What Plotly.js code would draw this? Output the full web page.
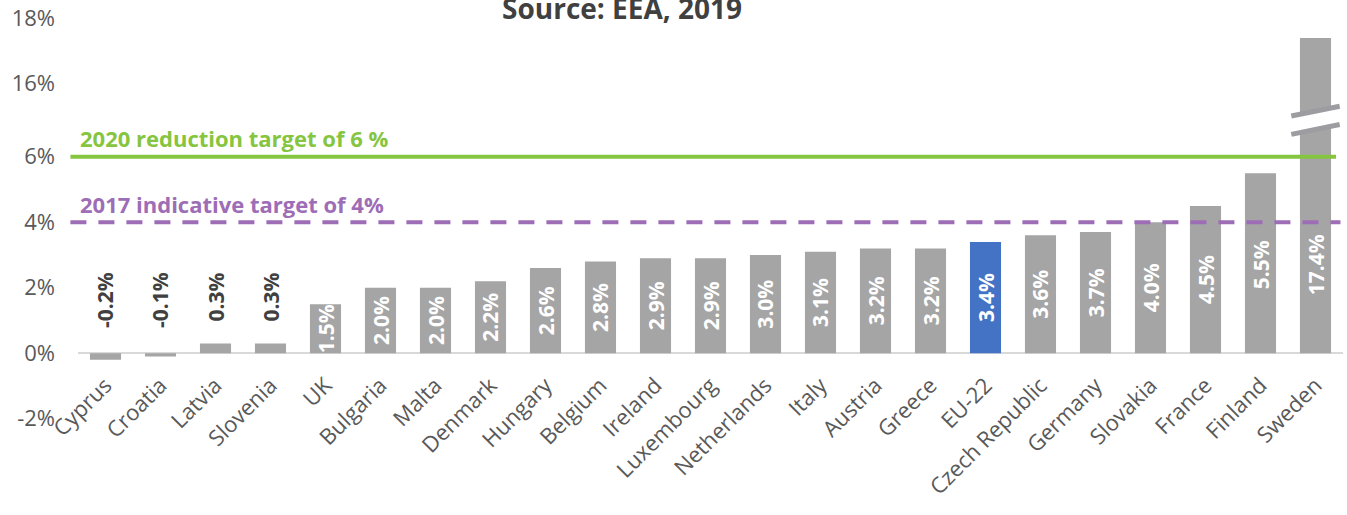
<!DOCTYPE html>
<html>
<head>
<meta charset="utf-8">
<script src="https://cdn.plot.ly/plotly-3.0.1.min.js"></script>
<style>
  html, body { margin: 0; padding: 0; background: #fff; }
  #chart { width: 1347px; height: 515px; }
</style>
</head>
<body>
<div id="chart"></div>
<script>
// ---- data ----
const countries = ["Cyprus", "Croatia", "Latvia", "Slovenia", "UK", "Bulgaria", "Malta", "Denmark",
  "Hungary", "Belgium", "Ireland", "Luxembourg", "Netherlands", "Italy", "Austria", "Greece",
  "EU-22", "Czech Republic", "Germany", "Slovakia", "France", "Finland", "Sweden"];
const reduction = [-0.2, -0.1, 0.3, 0.3, 1.5, 2.0, 2.0, 2.2, 2.6, 2.8, 2.9, 2.9, 3.0, 3.1, 3.2, 3.2,
  3.4, 3.6, 3.7, 4.0, 4.5, 5.5, 17.4];
const highlight = "EU-22";
const tickValues = [-2, 0, 2, 4, 6, 16, 18];
const tickLabels = ["-2%", "0%", "2%", "4%", "6%", "16%", "18%"];
const target2020 = 6;
const target2017 = 4;
const target2020Label = "2020 reduction target of 6 %";
const target2017Label = "2017 indicative target of 4%";
const sourceText = "Source: EEA, 2019";

// ---- broken axis: 6%..16% is compressed ----
const breakLo = 6, breakHi = 16, breakSpan = 2.23;
function disp(v) {
  if (v <= breakLo) return v;
  if (v >= breakHi) return v - breakHi + breakLo + breakSpan;
  return breakLo + (v - breakLo) / (breakHi - breakLo) * breakSpan;
}

const FONT = "Open Sans";
const GRAY = "#A5A5A5";
const BLUE = "#4472C4";
const GREEN = "#86C540";
const PURPLE = "#9D6DB6";

const yDisp = reduction.map(disp);
const colors = countries.map(c => c === highlight ? BLUE : GRAY);

const trace = {
  type: "bar",
  x: countries,
  y: yDisp,
  marker: { color: colors, line: { width: 0 } },
  hoverinfo: "skip"
};

// data labels
const annotations = [];
reduction.forEach((v, i) => {
  const txt = v.toFixed(1) + "%";
  if (Math.abs(v) < 1) {
    annotations.push({
      x: i, y: 2.53, xref: "x", yref: "y", text: "<b>" + txt + "</b>",
      textangle: -90, showarrow: false, xanchor: "center", yanchor: "top",
      font: { family: FONT, size: 21, color: "#404040" }
    });
  } else {
    annotations.push({
      x: i, y: Math.min(yDisp[i], 5.4) / 2, xref: "x", yref: "y", text: "<b>" + txt + "</b>",
      textangle: -90, showarrow: false, xanchor: "center", yanchor: "middle",
      font: { family: FONT, size: 21, color: "#FFFFFF" }
    });
  }
});

// target labels
annotations.push({
  x: 0, xref: "paper", xanchor: "left", y: disp(target2020) + 0.47, yref: "y", yanchor: "middle",
  yshift: 3,
  text: "<b>" + target2020Label + "</b>", showarrow: false,
  font: { family: FONT, size: 22, color: GREEN }
});
annotations.push({
  x: 0, xref: "paper", xanchor: "left", y: disp(target2017) + 0.45, yref: "y", yanchor: "middle",
  yshift: 4,
  text: "<b>" + target2017Label + "</b>", showarrow: false,
  font: { family: FONT, size: 22, color: PURPLE }
});
// source (title second line, partly cut at top as in the reference)
annotations.push({
  x: 0.43, xref: "paper", xanchor: "center", y: 1.0, yref: "paper", yanchor: "middle",
  yshift: 8,
  text: "<b>" + sourceText + "</b>", showarrow: false,
  font: { family: FONT, size: 28, color: "#404040" }
});

// break marks on the tall bar
const bi = countries.length - 1;
const mid = (disp(breakLo) + disp(breakHi)) / 2;
const half = 0.44, tilt = 0.15, off = 0.28;
const xl = bi - half, xr = bi + half;
const shapes = [
  { type: "line", xref: "paper", yref: "y", x0: -0.006, x1: 0.9945,
    y0: disp(target2020), y1: disp(target2020), line: { color: GREEN, width: 4 }, layer: "above" },
  { type: "line", xref: "paper", yref: "y", x0: -0.006, x1: 0.998,
    y0: disp(target2017), y1: disp(target2017), line: { color: PURPLE, width: 4, dash: "16px,12px" }, layer: "above" },
  { type: "path", xref: "x", yref: "y", layer: "above",
    path: `M ${xl} ${mid - off - tilt} L ${xr} ${mid - off + tilt} L ${xr} ${mid + off + tilt} L ${xl} ${mid + off - tilt} Z`,
    fillcolor: "#FFFFFF", line: { width: 0 } },
  { type: "line", xref: "x", yref: "y", layer: "above",
    x0: xl, x1: xr, y0: mid + off - tilt, y1: mid + off + tilt, line: { color: "#9C9CA1", width: 5 } },
  { type: "line", xref: "x", yref: "y", layer: "above",
    x0: xl, x1: xr, y0: mid - off - tilt, y1: mid - off + tilt, line: { color: "#9C9CA1", width: 5 } }
];

const yMin = -2.1, yMax = 10.3;
const layout = {
  width: 1347, height: 515,
  margin: { l: 78, r: 4, t: 16, b: 93 },
  paper_bgcolor: "#FFFFFF", plot_bgcolor: "#FFFFFF",
  showlegend: false,
  bargap: 0.435,
  font: { family: FONT, color: "#595959" },
  xaxis: {
    type: "category",
    anchor: "free",
    position: (0 - yMin) / (yMax - yMin),
    tickangle: -45,
    showline: false, showgrid: false, zeroline: false, ticks: "",
    tickfont: { family: FONT, size: 22, color: "#595959" },
    ticklabelstandoff: 14,
    range: [-0.5, countries.length - 0.5],
    fixedrange: true
  },
  yaxis: {
    range: [yMin, yMax],
    tickvals: tickValues.map(disp),
    ticktext: tickLabels,
    showgrid: false, showline: false, ticks: "",
    zeroline: true, zerolinecolor: "#D9D9D9", zerolinewidth: 2,
    tickfont: { family: FONT, size: 22, color: "#595959" },
    ticklabelstandoff: 22,
    fixedrange: true
  },
  shapes: shapes,
  annotations: annotations
};

Plotly.newPlot("chart", [trace], layout, { displayModeBar: false, staticPlot: true });
</script>
</body>
</html>
